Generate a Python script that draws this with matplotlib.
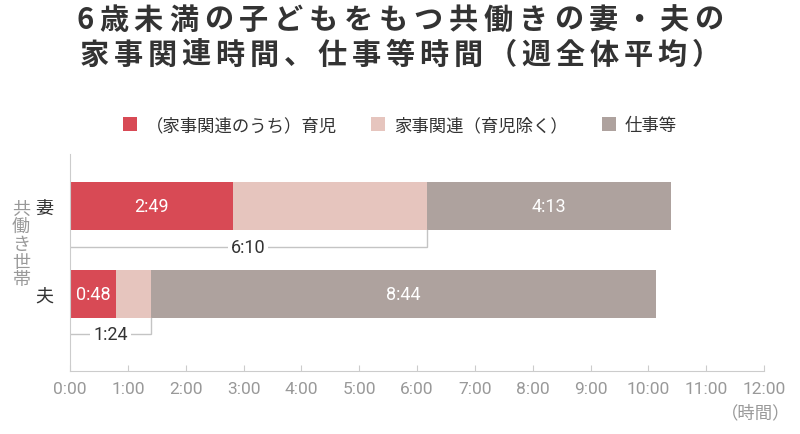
import matplotlib
matplotlib.use('Agg')
import matplotlib.pyplot as plt
from matplotlib.patches import Patch

plt.rcParams['font.family'] = ['Noto Sans CJK JP', 'DejaVu Sans']

# data (h:mm)
groups = ['夫', '妻']
childcare = ['0:48', '2:49']
housework_other = ['0:36', '3:21']
housework_total = ['1:24', '6:10']
work = ['8:44', '4:13']
legend_labels = ['（家事関連のうち）育児', '家事関連（育児除く）', '仕事等']
xticks = list(range(0, 13))
title_lines = ['6歳未満の子どもをもつ共働きの妻・夫の',
               '家事関連時間、仕事等時間（週全体平均）']

colors = ['#D84A55', '#E6C5BE', '#AEA29E']
num_font = ['Roboto', 'DejaVu Sans']

W, H = 800, 435


def to_hours(s):
    h, m = s.split(':')
    return int(h) + int(m) / 60


def spaced_text(fig, text, y_px, adv, size):
    # title has wide letter spacing, so place glyphs one by one
    widths = [adv * 0.62 if ch.isascii() else adv for ch in text]
    x = W / 2 - sum(widths) / 2
    for ch, wd in zip(text, widths):
        fig.text((x + wd / 2) / W, 1 - y_px / H, ch, ha='center', va='center',
                 fontsize=size, fontweight='bold', color='#333333')
        x += wd


fig = plt.figure(figsize=(W / 100, H / 100), dpi=100)
ax = fig.add_axes([0.0875, 0.145, 0.8675, 0.4985])

y_pos = list(range(len(groups)))
bh = 0.545
c = [to_hours(v) for v in childcare]
o = [to_hours(v) for v in housework_other]
w = [to_hours(v) for v in work]
left2 = [a + b for a, b in zip(c, o)]

ax.barh(y_pos, c, bh, color=colors[0], align='center')
ax.barh(y_pos, o, bh, left=c, color=colors[1], align='center')
ax.barh(y_pos, w, bh, left=left2, color=colors[2], align='center')

for i in y_pos:
    ax.text(c[i] / 2, i, childcare[i], ha='center', va='center',
            color='white', fontsize=13, family=num_font)
    ax.text(left2[i] + w[i] / 2, i, work[i], ha='center', va='center',
            color='white', fontsize=13, family=num_font)
    # bracket for household total
    tot = to_hours(housework_total[i])
    yb = i - 0.455 if i == 0 else i - 0.466
    ax.plot([0, tot, tot], [yb, yb, i - bh / 2], color='#c4c4c4', lw=1,
            solid_joinstyle='miter', zorder=1)
    ax.text(tot / 2, yb, housework_total[i], ha='center', va='center',
            color='#333333', fontsize=13, family=num_font,
            bbox=dict(facecolor='white', edgecolor='none', pad=2))

ax.set_xlim(0, 12)
ax.set_ylim(-0.875, 1.591)
ax.set_xticks(xticks)
ax.set_xticklabels(['%d:00' % t for t in xticks], family=num_font,
                   fontsize=12.5, color='#999999')
ax.set_yticks(y_pos)
ax.set_yticklabels(groups, fontsize=13, color='#333333')
ax.tick_params(axis='x', direction='in', length=4, color='#cccccc', pad=7)
ax.tick_params(axis='y', length=0, pad=12)
for s in ['top', 'right']:
    ax.spines[s].set_visible(False)
for s in ['left', 'bottom']:
    ax.spines[s].set_color('#cccccc')

fig.text(0.026, 0.437, '\n'.join('共働き世帯'), ha='center', va='center',
         fontsize=13, color='#999999', linespacing=0.98)
fig.text(0.988, 0.05, '（時間）', ha='right', va='center',
         fontsize=12.5, color='#999999')

spaced_text(fig, title_lines[0], 20, 35, 21)
spaced_text(fig, title_lines[1], 55, 34, 21)

handles = [Patch(facecolor=col, edgecolor='none') for col in colors]
fig.legend(handles, legend_labels, loc='center', bbox_to_anchor=(0.5, 0.71),
           ncol=3, frameon=False, fontsize=12.5, handlelength=0.8,
           handleheight=0.8, handletextpad=0.5, columnspacing=2.0,
           labelcolor='#333333')

plt.savefig('out.png', dpi=100)
